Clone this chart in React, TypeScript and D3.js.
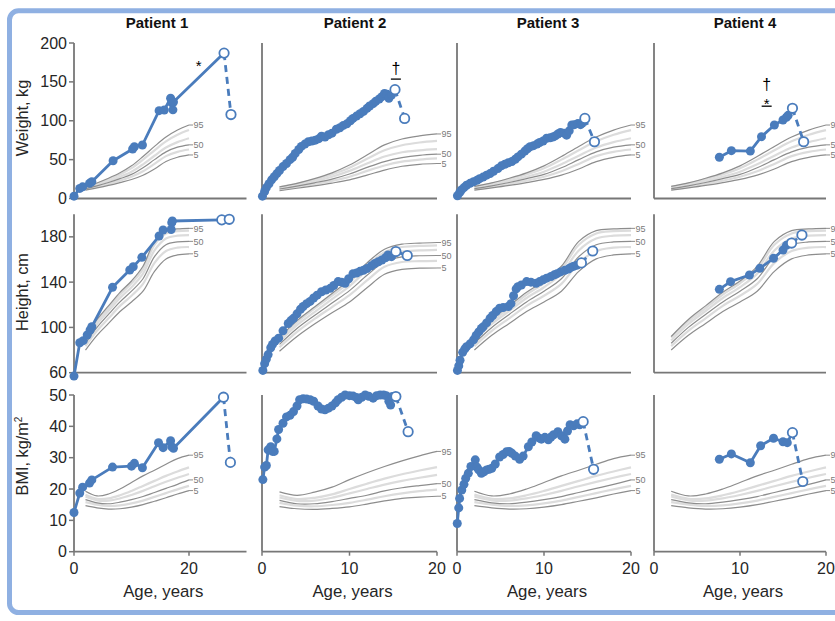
import React from 'react';
import * as d3 from 'd3';

type Pt = [number, number];

// ---------- text / ticks ----------
const patientTitles = ['Patient 1', 'Patient 2', 'Patient 3', 'Patient 4'];
const weightTicks = [0, 50, 100, 150, 200];
const heightTicks = [60, 100, 140, 180];
const bmiTicks = [0, 10, 20, 30, 40, 50];
const ageTicksP1 = [0, 20];
const ageTicks = [0, 10, 20];
const labeledPcts = [95, 50, 5];

// ---------- reference percentile curves (ages 2..20) ----------
const refAges = [2, 4, 6, 8, 10, 12, 14, 16, 18, 20];
const growthPcts = [95, 90, 75, 50, 25, 5];
const bmiPcts = [95, 85, 75, 50, 25, 5];

const mWt95 = [15.5, 20, 26, 33, 42, 54, 67, 79, 88, 94.5];
const mWt90 = [15, 19.2, 24.8, 31, 39, 50, 62, 73.5, 82, 88];
const mWt75 = [14, 17.8, 22.5, 28, 34.5, 44, 55, 65.5, 72.5, 77.5];
const mWt50 = [12.7, 16.3, 20.6, 25.5, 31, 39.5, 50, 60, 66, 69];
const mWt25 = [11.8, 15.1, 18.8, 23, 28, 35, 44.5, 54.5, 60, 63];
const mWt5 = [10.7, 13.6, 16.8, 20.5, 24.5, 30, 38, 47.5, 53, 56];

const fWt95 = [15, 19.5, 25.5, 33, 43, 56, 69, 76.5, 80.5, 83];
const fWt90 = [14.5, 18.8, 24, 31, 39.5, 51, 62, 68.5, 72, 74];
const fWt75 = [13.5, 17.5, 22, 28, 35.5, 45, 54, 59.5, 62, 63.5];
const fWt50 = [12.2, 16, 20.2, 25, 31.5, 40, 47.5, 52.5, 55.5, 57];
const fWt25 = [11.3, 14.8, 18.5, 22.7, 28, 35.5, 42.5, 47.5, 50, 51.5];
const fWt5 = [10, 13.2, 16.3, 19.8, 24, 30, 36.5, 41.5, 44, 45];

const mHt95 = [92, 107, 119, 131, 141, 154, 176, 185.5, 187, 187.5];
const mHt90 = [91, 105.5, 117, 129, 139, 151.5, 173, 183, 185, 185.5];
const mHt75 = [88.5, 103, 114.5, 126, 135.5, 147.5, 168, 178.5, 181, 181.5];
const mHt50 = [86, 100, 111.5, 122.5, 132, 143, 162.5, 173, 175.5, 176];
const mHt25 = [83.5, 97, 108, 119, 128, 138.5, 157, 167.5, 170.5, 171];
const mHt5 = [80, 93, 103.5, 114, 122.5, 132, 149.5, 160.5, 164, 165];

const fHt95 = [91, 106, 118, 130, 142, 157, 169, 173.5, 174.5, 175];
const fHt90 = [90, 104.5, 116.5, 128, 140, 154.5, 166.5, 171, 172, 172.5];
const fHt75 = [87.5, 102, 113.5, 125, 136.5, 150.5, 162.5, 167, 168, 168.5];
const fHt50 = [85, 99, 110.5, 121.5, 132.5, 146, 158, 162.3, 163.3, 163.5];
const fHt25 = [82.5, 96, 107.5, 118, 128.5, 141.5, 153.5, 157.8, 158.5, 158.8];
const fHt5 = [79, 92, 103, 113, 122.5, 135, 147, 151.3, 152.3, 152.5];

const mBmi95 = [19.3, 17.8, 18.4, 20.0, 22.1, 24.2, 26.0, 27.9, 29.7, 30.8];
const mBmi85 = [18.2, 16.9, 17.0, 18.0, 19.4, 21.0, 22.6, 24.2, 25.6, 26.9];
const mBmi75 = [17.6, 16.4, 16.3, 17.0, 18.1, 19.4, 20.9, 22.3, 23.6, 24.8];
const mBmi50 = [16.6, 15.6, 15.3, 15.8, 16.6, 17.6, 18.9, 20.2, 21.5, 22.9];
const mBmi25 = [15.8, 15.0, 14.6, 14.8, 15.4, 16.3, 17.5, 18.7, 19.9, 21.0];
const mBmi5 = [14.7, 14.0, 13.6, 13.7, 14.2, 15.0, 16.1, 17.2, 18.4, 19.5];

const fBmi95 = [19.1, 18.0, 19.0, 20.6, 23.0, 25.2, 27.2, 29.0, 30.6, 32.0];
const fBmi85 = [18.0, 16.8, 17.2, 18.3, 20.0, 21.7, 23.3, 24.7, 25.9, 27.0];
const fBmi75 = [17.3, 16.2, 16.3, 17.2, 18.6, 20.0, 21.4, 22.6, 23.6, 24.5];
const fBmi50 = [16.4, 15.3, 15.3, 16.0, 17.0, 18.0, 19.4, 20.4, 21.1, 21.7];
const fBmi25 = [15.6, 14.7, 14.5, 14.9, 15.6, 16.6, 17.7, 18.6, 19.3, 19.8];
const fBmi5 = [14.4, 13.7, 13.5, 13.8, 14.3, 15.2, 16.2, 17.0, 17.4, 17.7];

// ---------- patient data [age, value] ----------
const p1Weight: Pt[] = [[0, 3], [1.0, 13], [1.5, 15], [2.7, 19.5], [3.1, 21.6], [6.8, 48.6], [10.2, 63.7], [10.5, 66.6], [11.9, 68.8], [14.8, 113], [15.7, 113.8], [16.8, 129], [17.0, 123], [17.2, 114], [17.3, 124]];
const p1WeightEnd: Pt[] = [[26.1, 187], [27.3, 108]];
const p1Height: Pt[] = [[0, 57], [1.0, 86.5], [1.6, 88.3], [2.3, 93.3], [2.8, 97.7], [3.1, 100.6], [6.7, 135.4], [9.7, 150.7], [10.3, 153.6], [11.8, 161.9], [14.8, 180.7], [15.5, 186], [16.9, 186.5], [17.0, 192.5], [17.1, 194]];
const p1HeightEnd: Pt[] = [[25.7, 195], [27.0, 195.5]];
const p1Bmi: Pt[] = [[0, 12.5], [1.0, 18.7], [1.5, 20.6], [2.7, 21.9], [3.1, 22.9], [6.7, 27], [10.0, 27.3], [10.5, 28.2], [11.9, 26.8], [14.7, 34.8], [15.5, 33.2], [16.8, 35.4], [17.0, 33.5], [17.3, 33]];
const p1BmiEnd: Pt[] = [[26.0, 49.3], [27.2, 28.5]];

const p2Weight: Pt[] = [[0.05, 3], [0.3, 9], [0.5, 14], [0.8, 19], [1.1, 24], [1.4, 28], [1.7, 32], [2.0, 36], [2.4, 41], [2.8, 45], [3.2, 50], [3.5, 53], [3.8, 58], [4.2, 63], [4.5, 67], [4.9, 70], [5.3, 73], [5.7, 74], [6.1, 75], [6.5, 77], [6.8, 80], [7.2, 79], [7.6, 82], [8.0, 84], [8.5, 89], [8.9, 91], [9.3, 94], [9.7, 96], [10.1, 100], [10.4, 103], [10.8, 106], [11.2, 109], [11.6, 112], [12.0, 116], [12.3, 119], [12.7, 122], [13.0, 125], [13.4, 128], [13.7, 131], [14.0, 135], [14.3, 134], [14.5, 129], [14.8, 133]];
const p2WeightEnd: Pt[] = [[15.2, 140], [16.3, 103]];
const p2Height: Pt[] = [[0.1, 62], [0.3, 68], [0.5, 72], [0.7, 76], [1.0, 82], [1.2, 85], [1.5, 88], [1.9, 90.5], [2.4, 97], [3.0, 103.5], [3.3, 106], [3.6, 108], [4.0, 112], [4.4, 116], [4.7, 118.5], [5.1, 121], [5.5, 123], [5.9, 126], [6.3, 128.5], [6.8, 131.5], [7.3, 133], [7.8, 134.5], [8.2, 137], [8.7, 140.5], [9.1, 140], [9.5, 139], [9.9, 143], [10.4, 147.5], [10.8, 148], [11.2, 149.5], [11.6, 150.5], [12.0, 152], [12.5, 154.5], [12.9, 156.5], [13.3, 158], [13.7, 159.5], [14.1, 161.5], [14.4, 164], [14.8, 162.5]];
const p2HeightEnd: Pt[] = [[15.3, 167], [16.6, 163.5]];
const p2Bmi: Pt[] = [[0.1, 23], [0.3, 27], [0.5, 27.5], [0.7, 32.5], [1.0, 33.5], [1.2, 32], [1.4, 32], [1.7, 36], [1.9, 39], [2.4, 41], [2.8, 43], [3.2, 43.5], [3.6, 44.7], [4.0, 46.5], [4.3, 48.5], [4.7, 48.8], [5.1, 48.7], [5.5, 48.5], [5.9, 48], [6.4, 46.5], [6.8, 45.5], [7.2, 45.3], [7.6, 45.8], [8.0, 46.5], [8.4, 47.5], [8.7, 48.5], [9.1, 49.3], [9.5, 50], [10.0, 49.8], [10.4, 49.7], [10.8, 49.2], [11.0, 48.5], [11.4, 49.3], [11.8, 50], [12.2, 49.6], [12.7, 49], [13.1, 49.8], [13.5, 50], [13.9, 50], [14.2, 49.8], [14.5, 48], [14.7, 46.8], [14.9, 49.5]];
const p2BmiEnd: Pt[] = [[15.3, 49.5], [16.7, 38.3]];

const p3Weight: Pt[] = [[0.05, 3.5], [0.3, 7.5], [0.5, 11], [0.8, 14], [1.1, 17], [1.5, 19.5], [1.9, 21.5], [2.3, 23.5], [2.6, 25.5], [3.0, 27.5], [3.4, 30], [3.8, 32], [4.2, 35], [4.7, 38.5], [5.1, 42], [5.5, 44], [5.9, 46], [6.3, 47.5], [6.7, 50.5], [7.0, 53.5], [7.4, 57], [7.8, 61], [8.1, 64], [8.4, 66.5], [8.8, 68], [9.2, 70], [9.5, 72], [9.9, 74], [10.3, 77.5], [10.7, 78], [11.0, 79], [11.3, 80.5], [11.6, 83], [11.9, 85], [12.3, 84], [12.6, 81.5], [12.9, 87], [13.2, 94.5], [13.5, 95], [13.9, 96.5], [14.2, 95], [14.4, 97]];
const p3WeightEnd: Pt[] = [[14.7, 103], [15.8, 73]];
const p3Height: Pt[] = [[0.05, 62], [0.2, 66], [0.35, 71], [0.65, 78], [0.9, 81], [1.1, 83], [1.5, 85.5], [1.9, 89], [2.2, 93], [2.5, 96], [2.8, 99], [3.0, 100.5], [3.4, 104], [3.8, 108], [4.1, 110.5], [4.5, 114], [4.9, 117], [5.3, 117.5], [5.9, 118.5], [6.2, 121], [6.5, 128], [6.8, 134], [7.0, 136], [7.4, 137.5], [8.0, 140.5], [8.5, 140], [9.1, 139], [9.5, 140.5], [9.9, 142], [10.3, 143.5], [10.8, 145], [11.2, 146.5], [11.5, 147.5], [11.9, 149], [12.4, 150.5], [12.8, 151.5], [13.1, 153], [13.4, 154], [13.8, 155]];
const p3HeightEnd: Pt[] = [[14.3, 157], [15.6, 167.5]];
const p3Bmi: Pt[] = [[0.03, 9], [0.2, 14], [0.3, 17], [0.55, 19.7], [0.8, 21.5], [1.0, 23.4], [1.3, 25], [1.6, 27.2], [2.1, 29.3], [2.3, 27], [2.5, 26.1], [2.8, 25], [3.1, 25.5], [3.4, 26.1], [3.7, 26.3], [4.0, 26.6], [4.4, 28], [4.9, 30.2], [5.3, 31], [5.7, 31.9], [6.0, 32], [6.3, 31.4], [6.7, 30.5], [7.2, 29.5], [7.6, 30.5], [8.2, 33.5], [8.6, 35], [9.1, 37], [9.4, 36.3], [9.7, 35.9], [10.1, 36.5], [10.5, 35.7], [10.8, 36.6], [11.1, 37.3], [11.6, 38.3], [12.0, 37], [12.4, 35.9], [12.7, 38.5], [13.0, 40.5], [13.4, 40.2], [13.8, 40.8], [14.1, 40.5]];
const p3BmiEnd: Pt[] = [[14.5, 41.5], [15.7, 26.3]];

const p4Weight: Pt[] = [[7.6, 53], [9.0, 61.5], [11.2, 61], [12.5, 79.5], [14.0, 94.5], [15.0, 101], [15.4, 104.5], [15.6, 107]];
const p4WeightEnd: Pt[] = [[16.1, 116], [17.4, 73]];
const p4Height: Pt[] = [[7.6, 133.6], [8.9, 140.4], [11.1, 146.3], [12.3, 152.2], [13.9, 161], [15.0, 168.3], [15.4, 172.5]];
const p4HeightEnd: Pt[] = [[16.0, 174.5], [17.2, 181.6]];
const p4Bmi: Pt[] = [[7.6, 29.5], [9.0, 31.2], [11.2, 28.4], [12.4, 33.8], [13.9, 36.2], [15.0, 35.1], [15.5, 34.8]];
const p4BmiEnd: Pt[] = [[16.1, 38], [17.3, 22.4]];

// ---------- layout ----------
const W = 835;
const H = 621;
const BLUE = '#4a7cbc';
const FONT = '"Liberation Sans", Arial, Helvetica, sans-serif';

const cols = [
  { x0: 74, x1: 246.5, max: 30, ticks: ageTicksP1, sex: 'm', titleX: 157 },
  { x0: 262, x1: 437, max: 20, ticks: ageTicks, sex: 'f', titleX: 355 },
  { x0: 457, x1: 631, max: 20, ticks: ageTicks, sex: 'm', titleX: 548 },
  { x0: 654, x1: 826, max: 20, ticks: ageTicks, sex: 'm', titleX: 745 },
];

const rows = [
  { domain: [0, 200], range: [198.5, 43], ticks: weightTicks, labelY: 118, pcts: growthPcts,
    m: [mWt95, mWt90, mWt75, mWt50, mWt25, mWt5], f: [fWt95, fWt90, fWt75, fWt50, fWt25, fWt5] },
  { domain: [60, 200], range: [372.7, 214.2], ticks: heightTicks, labelY: 292, pcts: growthPcts,
    m: [mHt95, mHt90, mHt75, mHt50, mHt25, mHt5], f: [fHt95, fHt90, fHt75, fHt50, fHt25, fHt5] },
  { domain: [0, 50], range: [551.7, 395], ticks: bmiTicks, labelY: 456, pcts: bmiPcts,
    m: [mBmi95, mBmi85, mBmi75, mBmi50, mBmi25, mBmi5], f: [fBmi95, fBmi85, fBmi75, fBmi50, fBmi25, fBmi5] },
];

const series = [
  [[p1Weight, p1WeightEnd], [p1Height, p1HeightEnd], [p1Bmi, p1BmiEnd]],
  [[p2Weight, p2WeightEnd], [p2Height, p2HeightEnd], [p2Bmi, p2BmiEnd]],
  [[p3Weight, p3WeightEnd], [p3Height, p3HeightEnd], [p3Bmi, p3BmiEnd]],
  [[p4Weight, p4WeightEnd], [p4Height, p4HeightEnd], [p4Bmi, p4BmiEnd]],
];

// annotations: [col, row, age, value(baseline), text, size, underlineDy]
const annotations: [number, number, number, number, string, number, number | null][] = [
  [0, 0, 21.7, 164, '*', 15, null],
  [1, 0, 15.3, 160, '†', 16, 5],
  [3, 0, 13.1, 139.5, '†', 16, null],
  [3, 0, 13.1, 115.5, '*', 15, -2.5],
];

function Panel({ ci, ri }: { ci: number; ri: number }) {
  const c = cols[ci];
  const r = rows[ri];
  const x = d3.scaleLinear().domain([0, c.max]).range([c.x0, c.x1]);
  const y = d3.scaleLinear().domain(r.domain).range(r.range);
  const line = d3.line<Pt>().x((d) => x(d[0])).y((d) => y(d[1]));
  const curve = d3.line<Pt>().x((d) => x(d[0])).y((d) => y(d[1])).curve(d3.curveCatmullRom.alpha(0.5));
  const refs = c.sex === 'm' ? r.m : r.f;
  const [pts, end] = series[ci][ri] as [Pt[], Pt[]];
  const order = [1, 2, 4, 0, 3, 5];
  const x20 = x(20);
  return (
    <g>
      {order.map((k) => {
        const p = r.pcts[k];
        const dark = labeledPcts.includes(p);
        const data: Pt[] = refAges.map((a, i) => [a, refs[k][i]]);
        return (
          <path key={k} d={curve(data) || ''} fill="none"
            stroke={dark ? '#8d8d8d' : '#dcdcdc'} strokeWidth={dark ? 1.2 : 2.2} />
        );
      })}
      {r.pcts.map((p, k) =>
        labeledPcts.includes(p) ? (
          <g key={'l' + k}>
            <line x1={x20} x2={x20 + 4} y1={y(refs[k][refs[k].length - 1])} y2={y(refs[k][refs[k].length - 1])} stroke="#8d8d8d" strokeWidth={1} />
            <text x={x20 + 4.5} y={y(refs[k][refs[k].length - 1])} dy="0.35em" fontSize={9} fill="#7a7a7a">{p}</text>
          </g>
        ) : null
      )}
      <line x1={c.x0} x2={c.x0} y1={r.range[0]} y2={r.range[1]} stroke="#777" strokeWidth={1.8} />
      <line x1={c.x0} x2={c.x1} y1={r.range[0]} y2={r.range[0]} stroke="#777" strokeWidth={1.8} />
      {ci === 0 && r.ticks.map((t) => (
        <g key={'yt' + t}>
          <line x1={c.x0 - 5} x2={c.x0} y1={y(t)} y2={y(t)} stroke="#777" strokeWidth={1.5} />
          <text x={c.x0 - 7} y={y(t)} dy="0.35em" textAnchor="end" fontSize={16} fill="#262626">{t}</text>
        </g>
      ))}
      {ri === 2 && c.ticks.map((t) => (
        <g key={'xt' + t}>
          <line x1={x(t)} x2={x(t)} y1={r.range[0]} y2={r.range[0] + 4} stroke="#777" strokeWidth={1.5} />
          <text x={x(t)} y={574} textAnchor="middle" fontSize={16} fill="#262626">{t}</text>
        </g>
      ))}
      <path d={line(pts.concat([end[0]])) || ''} fill="none" stroke={BLUE} strokeWidth={2.8} strokeLinejoin="round" />
      <path d={line(end) || ''} fill="none" stroke={BLUE} strokeWidth={2.8} strokeDasharray="7,5" />
      {pts.map((d, i) => (
        <circle key={'p' + i} cx={x(d[0])} cy={y(d[1])} r={4.5} fill={BLUE} />
      ))}
      {end.map((d, i) => (
        <circle key={'e' + i} cx={x(d[0])} cy={y(d[1])} r={4.7} fill="#fff" stroke={BLUE} strokeWidth={1.8} />
      ))}
      {annotations.filter((a) => a[0] === ci && a[1] === ri).map((a, i) => (
        <g key={'a' + i}>
          <text x={x(a[2])} y={y(a[3])} textAnchor="middle" fontSize={a[5]} fill="#000">{a[4]}</text>
          {a[6] !== null && (
            <line x1={x(a[2]) - 5} x2={x(a[2]) + 5} y1={y(a[3]) + (a[6] as number)} y2={y(a[3]) + (a[6] as number)} stroke="#000" strokeWidth={1.3} />
          )}
        </g>
      ))}
    </g>
  );
}

export default function App() {
  return (
    <svg width={W} height={H} viewBox={`0 0 ${W} ${H}`}
      style={{ position: 'absolute', left: 0, top: 0, fontFamily: FONT, background: '#fff' }}>
      <rect x={0} y={0} width={W} height={H} fill="#fff" />
      <rect x={9.5} y={10.8} width={880} height={601.7} rx={9} fill="#fff" stroke="#8fb0e2" strokeWidth={5} />
      {patientTitles.map((t, i) => (
        <text key={t} x={cols[i].titleX} y={28} textAnchor="middle" fontWeight="bold" fontSize={15} fill="#111">{t}</text>
      ))}
      <text transform={`translate(28,${rows[0].labelY}) rotate(-90)`} textAnchor="middle" fontSize={16.3} fill="#262626">Weight, kg</text>
      <text transform={`translate(28,${rows[1].labelY}) rotate(-90)`} textAnchor="middle" fontSize={16.3} fill="#262626">Height, cm</text>
      <text transform={`translate(28,${rows[2].labelY}) rotate(-90)`} textAnchor="middle" fontSize={16.3} fill="#262626">
        BMI, kg/m<tspan dy={-6} fontSize={10}>2</tspan>
      </text>
      {cols.map((c, ci) => (
        <text key={'ax' + ci} x={(c.x0 + c.x1) / 2 + 3} y={597} textAnchor="middle" fontSize={16.8} fill="#262626">Age, years</text>
      ))}
      {cols.map((_, ci) => rows.map((__, ri) => <Panel key={ci + '-' + ri} ci={ci} ri={ri} />))}
    </svg>
  );
}
